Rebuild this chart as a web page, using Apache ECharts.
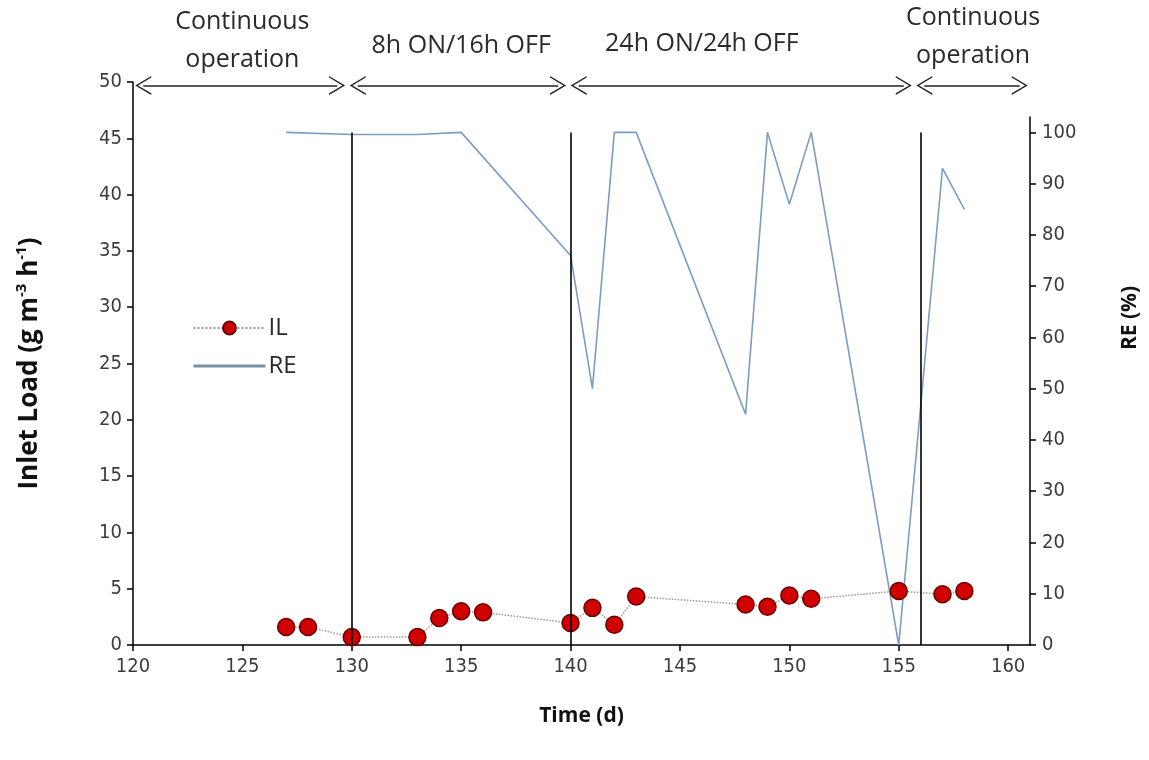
<!DOCTYPE html>
<html>
<head>
<meta charset="utf-8">
<script src="https://cdn.jsdelivr.net/npm/echarts@6/dist/echarts.min.js"></script>
<style>
  html, body { margin: 0; padding: 0; background: #fff; }
  #chart { width: 1149px; height: 760px; }
</style>
</head>
<body>
<div id="chart"></div>
<script>
const ilDays = [127, 128, 130, 133, 134, 135, 136, 140, 141, 142, 143, 148, 149, 150, 151, 155, 157, 158];
const ilValues = [1.6, 1.6, 0.7, 0.7, 2.4, 3.0, 2.9, 1.95, 3.3, 1.8, 4.3, 3.6, 3.4, 4.4, 4.1, 4.8, 4.5, 4.8];

const reDays = [127, 130, 133, 135, 140, 141, 142, 143, 148, 149, 150, 151, 155, 157, 158];
const reValues = [100, 99.6, 99.6, 100, 76, 50, 100, 100, 45, 100, 86, 100, 0, 93, 85];

const phaseLines = [130, 140, 156];
// arrow tips (days) for each operating phase
const arrowStarts = [120.1, 129.9, 140.0, 155.8];
const arrowEnds = [129.7, 139.8, 155.6, 160.9];
const phaseLabels = ['Continuous\noperation', '8h ON/16h OFF', '24h ON/24h OFF', 'Continuous\noperation'];
const phaseLabelX = [125, 135, 146, 158.4];
const phaseLabelOffsets = [-41, -36, -38, -45];

const timeTicks = [120, 125, 130, 135, 140, 145, 150, 155, 160];
const reTicks = [0, 10, 20, 30, 40, 50, 60, 70, 80, 90, 100];

const chart = echarts.init(document.getElementById('chart'));

const textColor = '#2a2a2a';
const tickFont = 'DejaVu Sans Condensed, DejaVu Sans';
const titleFont = 'Open Sans';
const chevron = 'path://M0,20 L10,0 L20,20 L18.3,20 L10,3.4 L1.7,20 Z';
const headHalf = 0.37; // half of the chevron depth, in days

const tickStyle = { show: true, length: 6, lineStyle: { color: '#000', width: 1.5 } };
const labelStyle = { fontFamily: tickFont, fontSize: 20, color: '#3c3c3c' };

chart.setOption({
  animation: false,
  textStyle: { fontFamily: titleFont },
  grid: [
    { left: 133, right: 119, top: 82, bottom: 115 },
    { left: 133, right: 119, top: 117, bottom: 115 }
  ],
  legend: {
    orient: 'vertical',
    left: 187,
    top: 311,
    itemWidth: 72,
    itemHeight: 16,
    itemGap: 14,
    textStyle: { fontFamily: titleFont, fontSize: 24, color: textColor, padding: [0, 0, 0, -2] },
    data: [
      'IL',
      { name: 'RE', itemStyle: { opacity: 0 }, lineStyle: { color: '#7890a6', width: 3 } }
    ]
  },
  xAxis: [
    {
      type: 'value',
      gridIndex: 0,
      min: 120,
      max: 161,
      name: 'Time (d)',
      nameLocation: 'middle',
      nameGap: 61,
      nameTextStyle: { fontFamily: titleFont, fontWeight: 'bold', fontSize: 21, color: '#111' },
      axisLine: { lineStyle: { color: '#000', width: 1.5 } },
      axisTick: Object.assign({ customValues: timeTicks }, tickStyle),
      axisLabel: Object.assign({ margin: 12, customValues: timeTicks }, labelStyle),
      splitLine: { show: false }
    },
    {
      type: 'value',
      gridIndex: 1,
      min: 120,
      max: 161,
      show: false
    }
  ],
  yAxis: [
    {
      type: 'value',
      gridIndex: 0,
      min: 0,
      max: 50,
      interval: 5,
      name: '{t|Inlet Load (g m}{s|-3}{t| h}{s|-1}{t|)}',
      nameLocation: 'middle',
      nameGap: 88,
      nameTextStyle: {
        rich: {
          t: { fontFamily: titleFont, fontWeight: 'bold', fontSize: 26, color: '#111' },
          s: { fontFamily: titleFont, fontWeight: 'bold', fontSize: 15, color: '#111', padding: [0, 0, 16, 0] }
        }
      },
      axisLine: { show: true, lineStyle: { color: '#000', width: 1.5 } },
      axisTick: tickStyle,
      axisLabel: Object.assign({ margin: 11 }, labelStyle),
      splitLine: { show: false }
    },
    {
      type: 'value',
      gridIndex: 1,
      position: 'right',
      min: 0,
      max: 103,
      name: 'RE (%)',
      nameLocation: 'middle',
      nameGap: 90,
      nameTextStyle: { fontFamily: titleFont, fontWeight: 'bold', fontSize: 21, color: '#111', padding: [0, 0, 0, 126] },
      axisLine: { show: true, lineStyle: { color: '#000', width: 1.5 } },
      axisTick: Object.assign({ customValues: reTicks }, tickStyle),
      axisLabel: Object.assign({ margin: 12, customValues: reTicks }, labelStyle),
      splitLine: { show: false }
    }
  ],
  series: [
    {
      name: 'RE',
      type: 'line',
      xAxisIndex: 1,
      yAxisIndex: 1,
      data: reDays.map((d, i) => [d, reValues[i]]),
      showSymbol: false,
      symbol: 'none',
      lineStyle: { color: '#7c9cc2', width: 1.6 },
      itemStyle: { color: '#7c9cc2' },
      z: 2,
      markLine: {
        silent: true,
        symbol: 'none',
        label: { show: false },
        lineStyle: { color: '#000', width: 1.6, type: 'solid' },
        data: phaseLines.map((d) => [{ coord: [d, 0] }, { coord: [d, 100] }])
      }
    },
    {
      name: 'IL',
      type: 'line',
      xAxisIndex: 0,
      yAxisIndex: 0,
      data: ilDays.map((d, i) => [d, ilValues[i]]),
      symbol: 'circle',
      symbolSize: 17,
      lineStyle: { color: '#9a9a9a', width: 1.5, type: 'dotted' },
      itemStyle: { color: '#d00000', borderColor: '#6a0000', borderWidth: 1.5 },
      z: 3,
      markLine: {
        silent: true,
        symbol: [chevron, chevron],
        symbolSize: [19, 16],
        label: { show: false },
        lineStyle: { color: '#222', width: 1.6, type: 'solid' },
        data: arrowStarts.map((s, i) => [
          { coord: [s + headHalf, 49.7] },
          { coord: [arrowEnds[i] - headHalf, 49.7] }
        ])
      },
      markPoint: {
        silent: true,
        symbol: 'circle',
        symbolSize: 1,
        itemStyle: { color: 'rgba(0,0,0,0)' },
        label: {
          show: true,
          position: 'inside',
          fontFamily: titleFont,
          fontSize: 25,
          lineHeight: 38,
          color: textColor,
          align: 'center'
        },
        data: phaseLabels.map((t, i) => ({
          coord: [phaseLabelX[i], 50],
          label: { formatter: t, offset: [0, phaseLabelOffsets[i]] }
        }))
      }
    }
  ]
});
</script>
</body>
</html>
